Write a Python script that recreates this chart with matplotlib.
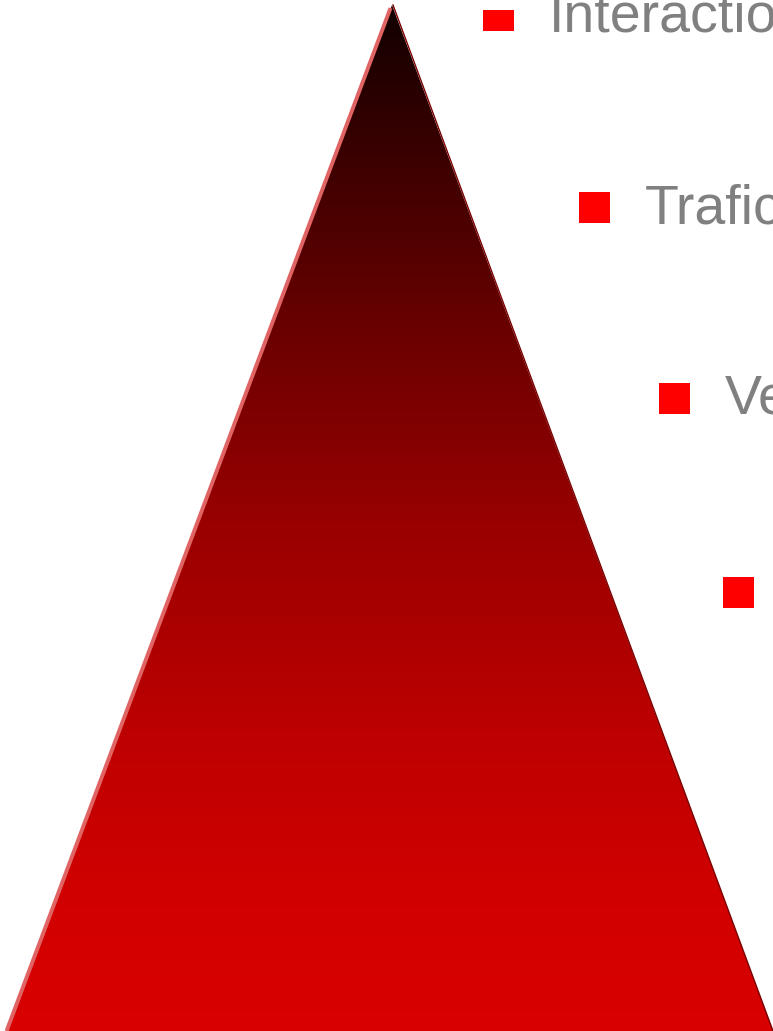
import numpy as np
import matplotlib.pyplot as plt
from matplotlib.patches import Polygon, Rectangle
from matplotlib.colors import LinearSegmentedColormap

# Libellés des niveaux de la pyramide (texte coupé à droite dans l'original)
niveaux = ["Interactions", "Trafic", "Ventes", "Fidélisation"]
# Ligne de base de chaque libellé (pixels, depuis le haut)
base_libelle = [31, 223, 414, 608]
# Bord gauche de chaque puce carrée
x_puce = [483, 579, 659, 723]

# Sommet et base du triangle
sommet = (392, 5)
base_gauche = (8, 1031)
base_droite = (773, 1031)

# Dégradé du haut (noir) vers le bas (rouge)
stops = [0.0, 0.1, 0.3, 0.5, 0.7, 0.88, 1.0]
teintes = ["#120000", "#2e0000", "#660000", "#980000", "#bc0000", "#d20000", "#d90000"]

W, H = 773, 1031
fig = plt.figure(figsize=(W / 100, H / 100), dpi=100)
ax = fig.add_axes([0, 0, 1, 1])
ax.set_xlim(0, W)
ax.set_ylim(H, 0)
ax.axis("off")

cmap = LinearSegmentedColormap.from_list("pyr", list(zip(stops, teintes)))
grad = np.linspace(0, 1, 512).reshape(-1, 1)
img = ax.imshow(grad, cmap=cmap, extent=[0, W, H, sommet[1]], aspect="auto",
                interpolation="bilinear", zorder=1)
tri = Polygon([sommet, base_gauche, base_droite], closed=True,
              facecolor="none", edgecolor="none")
ax.add_patch(tri)
img.set_clip_path(tri)

# liserés des côtés
ax.plot([sommet[0] - 1.5, base_gauche[0] - 1.5], [sommet[1] + 3, base_gauche[1]],
        color="#e06464", lw=2.8, zorder=2, solid_capstyle="butt")
ax.plot([sommet[0] + 1, base_droite[0]], [sommet[1], base_droite[1]],
        color="#7a0000", lw=1.0, zorder=2)

# puces et libellés
taille = 31
for nom, yb, xp in zip(niveaux, base_libelle, x_puce):
    haut = max(yb - taille, 10)
    ax.add_patch(Rectangle((xp, haut), taille, yb - haut,
                           facecolor="#ff0000", edgecolor="none", zorder=3))
    ax.text(xp + 66, yb, nom, fontsize=40, color="#808080",
            family="Liberation Sans", va="baseline", ha="left", zorder=3)

fig.savefig("out.png", dpi=100)
